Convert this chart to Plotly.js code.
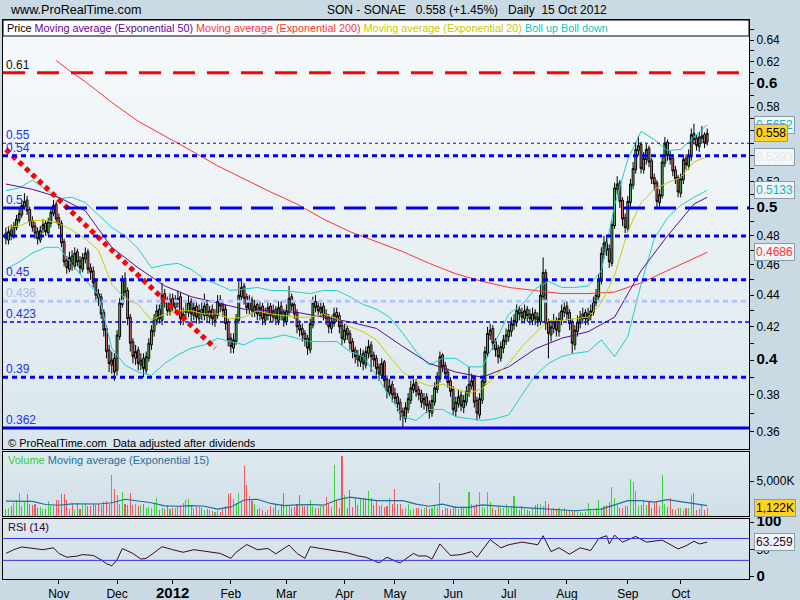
<!DOCTYPE html>
<html><head><meta charset="utf-8">
<script src="https://cdn.plot.ly/plotly-3.0.1.min.js"></script>
<style>
body{margin:0;background:#c9dae4;}
#wrap{position:relative;width:800px;height:600px;overflow:hidden;background:#c9dae4;}
.pn{position:absolute;}
#chart{position:absolute;left:0;top:0;width:800px;height:600px;}
</style></head><body>
<div id="wrap">
<div class="pn" style="left:3px;top:20px;width:746px;height:429px;background:linear-gradient(180deg,#f7fafc 0%,#e9f0f4 55%,#d9e6ed 100%)"></div>
<div class="pn" style="left:3px;top:452px;width:746px;height:64px;background:linear-gradient(180deg,#dfe9ef,#d0dfe8)"></div>
<div class="pn" style="left:3px;top:519px;width:746px;height:60px;background:linear-gradient(180deg,#dfe9ef,#d0dfe8)"></div>
<div id="chart"></div>
</div>
<script>
// ---------- DATA (SONAE daily, 4 Oct 2011 - 15 Oct 2012) ----------
const open = [
0.482,0.477,0.484,0.480,0.486,0.491,0.495,0.501,0.506,0.499,0.491,0.487,0.483,0.477,0.485,0.489,0.482,0.489,0.496,0.503,
0.493,0.489,0.476,0.463,0.457,0.466,0.459,0.469,0.463,0.457,0.464,0.469,0.458,0.456,0.449,0.441,0.439,0.429,0.419,0.406,0.397,0.401,
0.394,0.414,0.434,0.451,0.443,0.426,0.411,0.401,0.406,0.397,0.401,0.394,0.401,0.409,0.417,0.424,0.431,0.424,0.441,0.436,0.429,
0.438,0.432,0.435,0.439,0.424,0.429,0.429,0.436,0.427,0.433,0.425,0.431,0.427,0.434,0.426,0.431,0.424,0.427,0.437,0.434,0.431,0.423,
0.413,0.407,0.411,0.424,0.439,0.446,0.439,0.431,0.437,0.429,0.434,0.427,0.433,0.424,0.427,0.433,0.426,0.431,0.424,0.433,0.429,
0.423,0.429,0.439,0.434,0.429,0.421,0.419,0.416,0.413,0.406,0.421,0.436,0.433,0.429,0.433,0.428,0.426,0.419,0.422,0.429,0.427,0.421,
0.412,0.419,0.416,0.411,0.406,0.403,0.399,0.404,0.397,0.404,0.409,0.403,0.401,0.396,0.391,0.399,0.389,0.381,0.386,
0.381,0.379,0.376,0.371,0.367,0.372,0.377,0.383,0.387,0.383,0.381,0.375,0.379,0.375,0.370,0.376,0.383,0.389,0.403,0.397,0.393,0.388,
0.383,0.371,0.375,0.380,0.373,0.376,0.381,0.385,0.389,0.377,0.369,0.377,0.387,0.404,0.415,0.419,0.411,0.407,0.401,0.407,0.411,
0.414,0.417,0.421,0.423,0.431,0.429,0.425,0.431,0.428,0.424,0.429,0.426,0.423,0.439,0.455,0.423,0.415,0.419,0.424,0.417,0.424,0.429,
0.433,0.429,0.423,0.409,0.417,0.422,0.425,0.429,0.424,0.427,0.429,0.435,0.439,0.449,0.467,0.476,0.471,0.461,0.487,0.514,0.519,0.506,0.493,
0.485,0.504,0.517,0.529,0.544,0.549,0.529,0.537,0.546,0.536,0.523,0.519,0.504,0.509,0.534,0.551,0.541,0.538,0.529,0.523,
0.511,0.521,0.538,0.532,0.539,0.558,0.554,0.547,0.554,0.557,0.551];
const high = [
0.486,0.487,0.488,0.490,0.495,0.500,0.506,0.511,0.509,0.501,0.494,0.490,0.486,0.487,0.492,0.491,0.493,0.500,0.506,0.505,
0.496,0.491,0.478,0.466,0.469,0.470,0.472,0.471,0.466,0.468,0.472,0.471,0.461,0.459,0.451,0.444,0.441,0.431,0.421,0.409,0.405,0.404,
0.418,0.438,0.453,0.455,0.445,0.428,0.413,0.409,0.408,0.404,0.404,0.405,0.413,0.421,0.428,0.434,0.434,0.448,0.444,0.439,0.441,
0.441,0.440,0.443,0.442,0.432,0.436,0.440,0.438,0.437,0.436,0.434,0.436,0.441,0.437,0.433,0.434,0.431,0.440,0.440,0.437,0.434,0.425,
0.416,0.416,0.428,0.449,0.450,0.448,0.441,0.440,0.439,0.437,0.436,0.436,0.435,0.432,0.436,0.435,0.434,0.433,0.436,0.436,0.431,
0.434,0.446,0.441,0.436,0.431,0.424,0.422,0.418,0.415,0.425,0.439,0.440,0.436,0.436,0.435,0.431,0.428,0.427,0.432,0.432,0.429,0.423,
0.422,0.421,0.418,0.413,0.408,0.406,0.407,0.406,0.408,0.412,0.411,0.405,0.403,0.398,0.401,0.400,0.391,0.389,0.388,
0.384,0.381,0.378,0.373,0.376,0.381,0.388,0.391,0.389,0.385,0.383,0.381,0.381,0.377,0.380,0.387,0.393,0.405,0.404,0.399,0.395,0.390,
0.385,0.379,0.383,0.382,0.380,0.385,0.396,0.392,0.391,0.379,0.381,0.391,0.408,0.420,0.422,0.421,0.413,0.409,0.411,0.415,0.419,
0.422,0.426,0.428,0.434,0.433,0.432,0.434,0.433,0.431,0.432,0.431,0.429,0.447,0.465,0.457,0.425,0.424,0.428,0.426,0.429,0.434,0.436,
0.436,0.431,0.425,0.421,0.427,0.430,0.432,0.431,0.432,0.434,0.439,0.444,0.454,0.472,0.480,0.479,0.474,0.491,0.519,0.524,0.521,0.508,0.496,
0.509,0.522,0.535,0.551,0.556,0.551,0.543,0.550,0.548,0.538,0.526,0.521,0.514,0.539,0.555,0.553,0.544,0.541,0.532,0.525,
0.526,0.541,0.541,0.545,0.562,0.566,0.557,0.559,0.564,0.559,0.562];
const low = [
0.474,0.474,0.477,0.478,0.484,0.489,0.493,0.499,0.495,0.487,0.483,0.478,0.474,0.475,0.482,0.480,0.480,0.486,0.494,0.489,
0.485,0.472,0.459,0.454,0.455,0.456,0.457,0.459,0.454,0.455,0.461,0.454,0.450,0.445,0.436,0.433,0.425,0.414,0.401,0.393,0.392,0.388,
0.391,0.412,0.432,0.439,0.421,0.405,0.398,0.397,0.394,0.394,0.390,0.392,0.399,0.406,0.414,0.421,0.422,0.421,0.432,0.427,0.427,
0.430,0.429,0.432,0.421,0.421,0.425,0.426,0.423,0.424,0.422,0.422,0.424,0.424,0.423,0.422,0.421,0.420,0.425,0.429,0.426,0.418,0.408,
0.404,0.404,0.409,0.422,0.436,0.434,0.428,0.428,0.426,0.426,0.424,0.424,0.421,0.421,0.424,0.423,0.423,0.421,0.421,0.424,0.420,
0.421,0.427,0.430,0.425,0.416,0.414,0.411,0.408,0.403,0.404,0.419,0.429,0.427,0.426,0.424,0.421,0.416,0.416,0.420,0.423,0.416,0.409,
0.410,0.412,0.406,0.401,0.398,0.396,0.396,0.394,0.395,0.401,0.393,0.396,0.391,0.388,0.389,0.384,0.378,0.379,0.376,
0.375,0.371,0.366,0.362,0.365,0.370,0.375,0.381,0.379,0.377,0.373,0.372,0.370,0.367,0.368,0.374,0.381,0.387,0.393,0.389,0.384,0.379,
0.369,0.368,0.373,0.371,0.370,0.374,0.379,0.383,0.373,0.366,0.367,0.375,0.385,0.402,0.412,0.406,0.402,0.398,0.399,0.404,0.409,
0.411,0.414,0.418,0.420,0.424,0.422,0.422,0.423,0.421,0.421,0.421,0.420,0.421,0.437,0.418,0.401,0.411,0.416,0.414,0.414,0.421,0.426,
0.424,0.418,0.404,0.406,0.414,0.419,0.422,0.421,0.421,0.424,0.427,0.433,0.437,0.447,0.464,0.466,0.458,0.459,0.485,0.510,0.500,0.487,0.482,
0.483,0.501,0.514,0.526,0.540,0.526,0.526,0.533,0.531,0.518,0.513,0.500,0.501,0.507,0.531,0.536,0.533,0.524,0.518,0.508,
0.508,0.518,0.529,0.529,0.536,0.549,0.544,0.543,0.550,0.546,0.548];
const close = [
0.478,0.483,0.480,0.487,0.492,0.496,0.502,0.505,0.498,0.490,0.486,0.482,0.478,0.484,0.488,0.483,0.490,0.497,0.502,0.492,
0.488,0.475,0.462,0.458,0.465,0.460,0.468,0.462,0.458,0.465,0.468,0.457,0.455,0.448,0.440,0.438,0.428,0.418,0.405,0.398,0.400,0.393,
0.415,0.435,0.450,0.442,0.425,0.410,0.402,0.405,0.398,0.400,0.395,0.402,0.410,0.418,0.425,0.430,0.425,0.440,0.435,0.430,0.437,
0.433,0.436,0.438,0.425,0.428,0.430,0.435,0.428,0.432,0.426,0.430,0.428,0.433,0.427,0.430,0.425,0.428,0.436,0.433,0.430,0.422,0.412,
0.408,0.412,0.425,0.440,0.445,0.438,0.432,0.436,0.430,0.433,0.428,0.432,0.425,0.428,0.432,0.427,0.430,0.425,0.432,0.428,0.424,
0.430,0.438,0.433,0.428,0.420,0.418,0.415,0.412,0.407,0.422,0.435,0.432,0.430,0.432,0.427,0.425,0.420,0.423,0.428,0.426,0.420,0.413,
0.418,0.415,0.410,0.405,0.402,0.400,0.403,0.398,0.405,0.408,0.402,0.400,0.395,0.392,0.398,0.388,0.382,0.385,0.380,
0.378,0.375,0.370,0.368,0.373,0.378,0.384,0.386,0.382,0.380,0.376,0.378,0.374,0.371,0.377,0.384,0.390,0.402,0.396,0.392,0.387,0.382,
0.372,0.376,0.379,0.374,0.377,0.382,0.386,0.388,0.376,0.370,0.378,0.388,0.405,0.416,0.418,0.410,0.406,0.402,0.408,0.412,0.415,
0.418,0.422,0.424,0.430,0.428,0.426,0.430,0.427,0.425,0.428,0.425,0.424,0.440,0.455,0.422,0.416,0.420,0.423,0.418,0.425,0.430,0.432,
0.428,0.422,0.410,0.418,0.423,0.426,0.428,0.425,0.428,0.430,0.436,0.440,0.450,0.468,0.475,0.470,0.462,0.488,0.515,0.518,0.505,0.492,0.486,
0.505,0.518,0.530,0.545,0.548,0.530,0.538,0.545,0.535,0.522,0.518,0.505,0.510,0.535,0.550,0.540,0.537,0.528,0.522,0.512,
0.522,0.537,0.533,0.540,0.557,0.553,0.548,0.555,0.556,0.550,0.558];
// volume, thousands of shares
const volume = [
1060,1200,1395,1880,2260,3300,1395,2020,3220,1780,1540,1780,1200,1300,1060,1060,2120,1395,1395,2260,
2360,3130,3220,2260,1060,1880,915,1880,1060,1640,1920,1395,1395,1880,1540,1780,1590,2020,2120,1700,5870,3940,
2980,1680,3460,1680,1540,3320,1540,1680,1395,1540,1780,1200,1300,1200,1680,2650,915,1200,1060,1540,1060,
1200,1200,1395,1395,1880,2260,2400,1395,1200,1300,1395,1200,915,1060,820,720,580,720,580,1060,1395,3130,
3320,2500,1880,3320,2120,7170,4430,2840,2160,1780,1060,1200,915,580,820,1395,1200,1780,915,1780,3320,
1395,1395,1200,1300,1780,2980,1540,1395,1540,2360,1395,1200,1200,1395,1395,2740,1780,1300,7310,2260,1200,8610,
2980,1200,3800,1300,2650,1540,2650,2650,2650,3610,2650,1540,2160,1395,1540,1300,1395,2650,1680,
3940,1780,1780,1060,1200,1780,915,1060,1200,1200,1060,1100,1300,1060,1200,1395,1300,4760,915,1100,1200,1060,
1300,1395,1060,1300,1200,1200,3460,1680,1500,1680,3460,1300,1200,3460,2020,1200,915,1300,1100,1200,1780,
1200,1300,2840,1200,915,1395,1000,915,720,1100,1540,1780,1780,1395,2200,1780,820,1200,1000,1200,915,1100,
915,870,820,820,700,580,430,600,1880,915,720,1200,2260,1200,1395,1600,2020,4180,2650,1540,1200,1200,1395,
1395,5240,4900,3560,1395,1600,2120,1540,2120,1200,1880,2020,1400,5870,1780,1300,2650,1060,915,1100,
1200,915,1100,1200,2980,3320,915,1000,1680,915,1122];
// indicator readings (trading-day index -> value)
const idx5 = [0,5,10,15,20,25,30,35,40,45,50,55,60,65,70,75,80,85,90,95,100,105,110,115,120,125,130,135,140,145,150,155,160,165,170,175,180,185,190,195,200,205,210,215,220,225,230,235,240,245,250,255,260,265];
const ema20 = [.486,.487,.491,.491,.489,.484,.478,.470,.447,.438,.434,.424,.428,.430,.430,.428,.428,.425,.426,.430,.428,.427,.426,.426,.428,.425,.420,.417,.412,.402,.393,.388,.385,.386,.3835,.381,.3835,.391,.398,.408,.416,.424,.424,.425,.426,.435,.453,.483,.504,.514,.519,.523,.535,.5393];
const bollUp = [.513,.515,.521,.514,.507,.508,.504,.495,.486,.480,.471,.458,.460,.461,.457,.4505,.447,.443,.444,.445,.443,.443,.442,.441,.443,.443,.439,.434,.431,.426,.416,.405,.397,.401,.401,.396,.396,.411,.428,.434,.444,.449,.445,.445,.446,.456,.502,.537,.5596,.553,.544,.545,.555,.5652];
const bollDn = [.457,.462,.468,.472,.472,.460,.450,.440,.407,.397,.393,.391,.398,.403,.407,.409,.413,.411,.409,.413,.413,.415,.413,.411,.411,.411,.405,.402,.391,.379,.368,.366,.372,.372,.368,.367,.366,.367,.369,.380,.391,.398,.402,.404,.405,.412,.402,.414,.447,.478,.493,.502,.508,.5133];
const ema50Idx = [0,10,20,30,40,50,60,70,80,90,100,110,120,130,140,150,160,170,180,190,200,210,220,230,240,250,260,265];
const ema50 = [.518,.514,.508,.498,.472,.458,.446,.439,.435,.431,.430,.429,.426,.423,.419,.408,.398,.393,.390,.396,.4066,.413,.417,.426,.456,.480,.503,.508];
const ema200Idx = [19,25,30,40,50,60,70,80,90,100,110,120,130,140,150,160,170,180,190,200,210,220,230,240,250,260,265];
const ema200 = [.621,.610,.602,.584,.568,.556,.544,.532,.522,.512,.503,.492,.483,.476,.469,.461,.454,.449,.445,.443,.441,.441,.442,.448,.456,.464,.4686];
const volEma = [2120,2120,2100,1650,1540,1750,1700,1720,1900,2400,2150,1900,1450,1400,1500,1400,1000,1300,2300,2400,1800,1500,1600,1650,1550,2300,2700,2400,2200,2200,2200,1700,1400,1700,1250,1250,1600,1450,1350,1200,1080,1000,900,750,900,1000,1600,2200,2200,2000,2350,2020,1780,1490];
const rsiIdx = [0,3,6,10,14,18,20,23,27,29,33,36,38,40,42,44,48,51,53,56,59,63,67,71,76,81,85,87,91,95,99,102,107,110,113,115,119,124,129,133,136,141,144,148,149,154,156,159,161,164,168,172,176,178,183,187,190,195,201,203,206,209,213,217,221,224,227,228,230,233,238,242,248,254,257,260,262,265];
const rsi = [42.7,49.6,54.5,51.7,49.6,53,42.7,35.8,37.9,40.6,39,31,24,20,31,51.7,42.7,32.4,33.7,44,55,49.6,44.8,49.6,46,42.7,33.7,44.8,59,49.6,51.7,42,58,42.7,33.7,55,51.7,47.5,44,38,35.8,25.5,35.8,26.8,25.5,42.7,38,38,32.4,60,39,40.6,46,35.8,68,53,58.6,63.4,58.6,75,46,53,41.3,53,48,70,75,60,76,63.4,73.8,63.4,67,51,56.6,65,60,63.26];
const trendIdx = [0,79];
const trendVal = [0.545,0.407];
const levels = [
 {v:0.61, label:'0.61', color:'#ff0000', lc:'#111111', w:3, dash:'22px,12px'},
 {v:0.55, label:'0.55', color:'#0000ee', lc:'#2233ee', w:1, dash:'3px,3px'},
 {v:0.54, label:'0.54', color:'#0000ee', lc:'#2233ee', w:3, dash:'5px,4px'},
 {v:0.50, label:'0.5', color:'#0000ee', lc:'#2233ee', w:3, dash:'22px,9px'},
 {v:0.48, label:'', color:'#0000ee', lc:'#2233ee', w:3, dash:'5px,4px'},
 {v:0.45, label:'0.45', color:'#0000ee', lc:'#2233ee', w:3, dash:'5px,4px'},
 {v:0.436, label:'0.436', color:'#b3c3ff', lc:'#aabbee', w:3, dash:'5px,4px'},
 {v:0.423, label:'0.423', color:'#0000ee', lc:'#2233ee', w:1.5, dash:'4px,3px'},
 {v:0.39, label:'0.39', color:'#0000ee', lc:'#2233ee', w:3, dash:'5px,4px'},
 {v:0.362, label:'0.362', color:'#0000ee', lc:'#2233ee', w:3, dash:'solid'}];
const monthLabels = ['Nov','Dec','2012','Feb','Mar','Apr','May','Jun','Jul','Aug','Sep','Oct'];
const holidays = ['2011-12-26','2012-04-06','2012-04-09','2012-05-01'];

// ---------- build ----------
const FONT = 'Liberation Sans, Arial, sans-serif';
const dates = [];
{ const d = new Date(Date.UTC(2011,9,4));
  while (dates.length < close.length) {
    const s = d.toISOString().slice(0,10), w = d.getUTCDay();
    if (w!==0 && w!==6 && !holidays.includes(s)) dates.push(s);
    d.setUTCDate(d.getUTCDate()+1);
  } }
const at = a => a.map(i => dates[i]);
const monthTicks = [];
for (let i=1;i<dates.length;i++) if (dates[i].slice(5,7)!==dates[i-1].slice(5,7)) monthTicks.push(dates[i]);
const monthText = monthLabels.map(m => m==='2012' ? '<span style="font-size:15px"><b>2012</b></span>' : m);
const volColor = close.map((c,i)=> c>=open[i] ? '#3fcf3f' : '#ee5a5a');

const L=3, R=749, T=20, B=579, W=R-L, H=B-T;
const px = x => (x-L)/W, py = y => (B-y)/H;
const lg = Math.log10;
const PR = [lg(0.351), lg(0.6591)];

const traces = [
 {type:'candlestick', x:dates, open, high, low, close, xaxis:'x', yaxis:'y',
  increasing:{line:{color:'#000',width:1}, fillcolor:'#5fd35f'},
  decreasing:{line:{color:'#000',width:1}, fillcolor:'#f07c7c'},
  whiskerwidth:0, hoverinfo:'skip'},
 {type:'scatter', mode:'lines', x:at(idx5), y:bollUp, line:{color:'#1fcfcf',width:1}, xaxis:'x', yaxis:'y'},
 {type:'scatter', mode:'lines', x:at(idx5), y:bollDn, line:{color:'#1fcfcf',width:1}, xaxis:'x', yaxis:'y'},
 {type:'scatter', mode:'lines', x:at(ema200Idx), y:ema200, line:{color:'#ff3333',width:1}, xaxis:'x', yaxis:'y'},
 {type:'scatter', mode:'lines', x:at(ema50Idx), y:ema50, line:{color:'#5c0a99',width:1}, xaxis:'x', yaxis:'y'},
 {type:'scatter', mode:'lines', x:at(idx5), y:ema20, line:{color:'#cccc00',width:1}, xaxis:'x', yaxis:'y'},
 {type:'scatter', mode:'lines', x:at(trendIdx), y:trendVal, line:{color:'#ff0000',width:5,dash:'5px,4px'}, xaxis:'x', yaxis:'y'},
 {type:'bar', x:dates, y:volume, marker:{color:volColor,line:{width:0}}, width:0.4, xaxis:'x2', yaxis:'y2'},
 {type:'scatter', mode:'lines', x:at(idx5), y:volEma, line:{color:'#1f6e9e',width:1.2}, xaxis:'x2', yaxis:'y2'},
 {type:'scatter', mode:'lines', x:at(rsiIdx), y:rsi, line:{color:'#3a0a22',width:1}, xaxis:'x3', yaxis:'y3'}
];

const pTicks=[], pText=[];
for (let k=36;k<=65;k++){ const v=k/100; pTicks.push(v);
  if (k%2 || k===56) pText.push(''); else if (k%10===0) pText.push('<span style="font-size:15px"><b>'+(v.toString())+'</b></span>'); else pText.push(v.toFixed(2)); }

const xBase = {type:'category', categoryorder:'array', categoryarray:dates, range:[-1.1,280.8],
  showgrid:false, zeroline:false, showline:true, mirror:true, linecolor:'#000', linewidth:1,
  showticklabels:false, ticks:'', fixedrange:true, rangeslider:{visible:false}};
const yBase = {side:'right', showgrid:false, zeroline:false, showline:true, mirror:true, linecolor:'#000', linewidth:1,
  ticks:'outside', ticklen:4, tickcolor:'#000', tickfont:{family:FONT,size:12,color:'#000'}, fixedrange:true};

const shapes = [], annotations = [];
// legend strip at top of price panel
shapes.push({type:'rect', xref:'paper', yref:'paper', x0:0, x1:1, y0:py(36), y1:1, fillcolor:'#ffffff', line:{color:'#000',width:1}, layer:'above'});
levels.forEach(l => {
  shapes.push({type:'line', xref:'paper', yref:'y4', x0:0, x1:1, y0:lg(l.v), y1:lg(l.v), layer:'above',
    line:{color:l.color, width:l.w, dash:l.dash}});
  if (l.label) annotations.push({xref:'paper', yref:'y4', x:px(5), y:lg(l.v), xanchor:'left', yanchor:'bottom',
    text:l.label, showarrow:false, font:{family:FONT,size:12,color:l.lc}, borderpad:0});
});
shapes.push({type:'line', xref:'paper', yref:'y3', x0:0, x1:1, y0:70, y1:70, line:{color:'#3333ee',width:1}});
shapes.push({type:'line', xref:'paper', yref:'y3', x0:0, x1:1, y0:30, y1:30, line:{color:'#3333ee',width:1}});

const txt = (x,y,text,opt={}) => annotations.push(Object.assign({xref:'paper',yref:'paper',x:px(x),y:py(y),xanchor:'left',yanchor:'middle',
  text, showarrow:false, font:{family:FONT,size:11,color:'#000'}}, opt));
txt(8,10,'www.ProRealTime.com',{font:{family:FONT,size:12.6,color:'#000'}});
txt(325,10,'SON - SONAE&nbsp;&nbsp;&nbsp;0.558 (+1.45%)&nbsp;&nbsp;&nbsp;Daily&nbsp;&nbsp;15 Oct 2012',{font:{family:FONT,size:12,color:'#000'}});
txt(5,28,'Price <span style="color:#660099">Moving average (Exponential 50)</span> <span style="color:#ff3333">Moving average (Exponential 200)</span> <span style="color:#c8c800">Moving average (Exponential 20)</span> <span style="color:#00c8c8">Boll up Boll down</span>',{font:{family:FONT,size:10.8,color:'#000'}});
txt(6,443,'© ProRealTime.com&nbsp;&nbsp;Data adjusted after dividends');
txt(6,460,'<span style="color:#33cc33">Volume</span> <span style="color:#1f6e9e">Moving average (Exponential 15)</span>');
txt(6,527,'RSI (14)',{font:{family:FONT,size:11,color:'#330033'}});

// value boxes on the right axis
const boxes = [
 {yref:'y4', y:lg(0.5652), t:'0.5652', c:'#00bcbc', bg:'#f3f7f9'},
 {yref:'y4', y:lg(0.558), t:'0.558', c:'#000', bg:'#ffd21e'},
 {yref:'y4', y:lg(0.5393), t:'0.5393', c:'#e6e6e6', bg:'#f5f8fa'},
 {yref:'y4', y:lg(0.5133), t:'0.5133', c:'#00bcbc', bg:'#eef4f7'},
 {yref:'y4', y:lg(0.4686), t:'0.4686', c:'#ff3333', bg:'#eef4f7'},
 {yref:'y2', y:1122, t:'1,122K', c:'#000', bg:'#ffd21e'},
 {yref:'y3', y:63.259, t:'63.259', c:'#330033', bg:'#f2f6f8'}];
boxes.forEach(b => annotations.push({xref:'paper', yref:b.yref, x:px(754), y:b.y, xanchor:'left', yanchor:'middle',
  text:b.t, showarrow:false, bgcolor:b.bg, bordercolor:'#8a9cab', borderwidth:1, borderpad:1,
  font:{family:FONT,size:12,color:b.c}}));

const layout = {
  width:800, height:600, margin:{l:L, r:800-R, t:T, b:600-B, pad:0},
  paper_bgcolor:'rgba(0,0,0,0)', plot_bgcolor:'rgba(0,0,0,0)',
  showlegend:false, hovermode:false, dragmode:false, boxgap:0.02, bargap:0,
  font:{family:FONT,size:12,color:'#000'},
  xaxis:Object.assign({}, xBase, {anchor:'y'}),
  xaxis2:Object.assign({}, xBase, {anchor:'y2'}),
  xaxis3:Object.assign({}, xBase, {anchor:'y3', showticklabels:true, tickvals:monthTicks, ticktext:monthText,
     ticks:'outside', ticklen:4, tickcolor:'#000', tickfont:{family:FONT,size:12,color:'#000'}}),
  yaxis:Object.assign({}, yBase, {type:'log', domain:[py(449),1], range:PR, tickvals:pTicks, ticktext:pText}),
  yaxis2:Object.assign({}, yBase, {domain:[py(516),py(452)], range:[0,9180], tickvals:[5000], ticktext:['5,000K']}),
  yaxis3:Object.assign({}, yBase, {domain:[0,py(519)], range:[-4,105.6], tickvals:[0,50,100],
     ticktext:['<span style="font-size:15px"><b>0</b></span>','50','<span style="font-size:15px"><b>100</b></span>']}),
  yaxis4:{overlaying:'y', anchor:'x', side:'right', type:'linear', range:PR, showticklabels:false, ticks:'',
     showline:false, showgrid:false, zeroline:false, fixedrange:true},
  shapes, annotations
};
Plotly.newPlot('chart', traces, layout, {staticPlot:true, displayModeBar:false});
</script>
</body></html>
